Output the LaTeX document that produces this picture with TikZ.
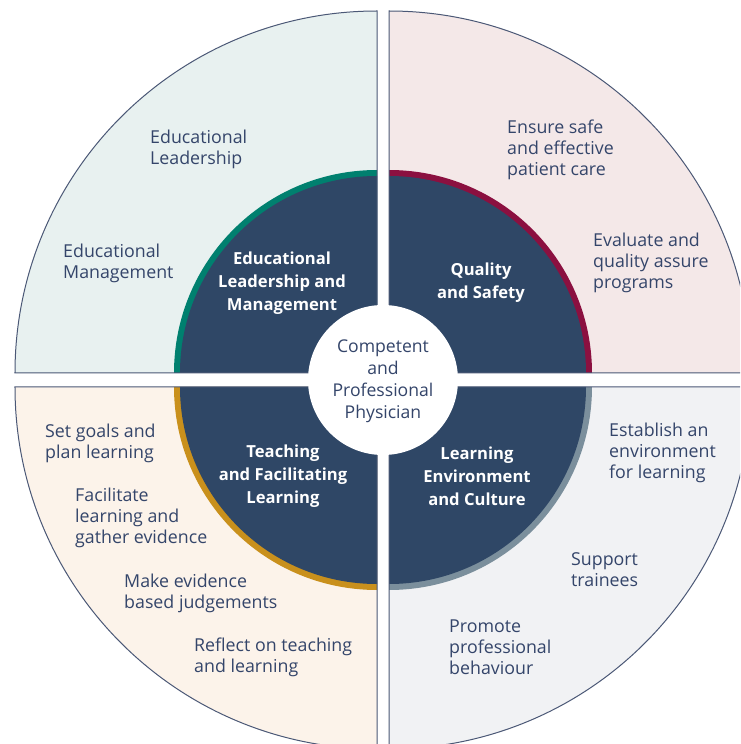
\documentclass[tikz,border=0pt]{standalone}
\usepackage{fontspec}
\setmainfont{Open Sans}
\usepackage{xcolor}
\usetikzlibrary{positioning}

\definecolor{navy}{HTML}{2F4766}
\definecolor{rimline}{HTML}{4B5876}
\definecolor{txtblue}{HTML}{34456A}
\definecolor{mintbg}{HTML}{E8F1F0}
\definecolor{pinkbg}{HTML}{F4E8E8}
\definecolor{creambg}{HTML}{FCF3EA}
\definecolor{greybg}{HTML}{F1F2F4}
\definecolor{ringteal}{HTML}{00806F}
\definecolor{ringwine}{HTML}{8B1040}
\definecolor{ringgold}{HTML}{C9901C}
\definecolor{ringslate}{HTML}{7B8F9C}

\tikzset{
  outtext/.style={anchor=west, align=left, text=txtblue, inner sep=0pt,
    font=\fontsize{17.8}{21}\selectfont},
  intext/.style={align=center, text=white, inner sep=0pt,
    font=\bfseries\fontsize{16.6}{23}\selectfont},
  midtext/.style={align=center, text=txtblue, inner sep=0pt,
    font=\fontsize{17.6}{22}\selectfont},
  rim/.style={draw=rimline, line width=1pt},
}

\begin{document}
\begin{tikzpicture}[x=1pt,y=1pt]
\path[use as bounding box] (-383,-364) rectangle (357,380);
\clip (-383,-364) rectangle (357,380);
\fill[white] (-383,-364) rectangle (357,380);

% top left
\begin{scope}[shift={(-6,7)}] {
\fill[mintbg] (0,0)--(-362,0) arc[start angle=180, end angle=90, radius=362]--cycle;
\fill[ringteal] (0,0)--(-203,0) arc[start angle=180, end angle=90, radius=203]--cycle;
\fill[navy] (0,0)--(-197,0) arc[start angle=180, end angle=90, radius=197]--cycle;
\draw[rim] (0,0)--(-362,0) arc[start angle=180, end angle=90, radius=362]--cycle;
}\end{scope}

% top right
\begin{scope}[shift={(6,7)}] {
\fill[pinkbg] (0,0)--(0,362) arc[start angle=90, end angle=0, radius=362]--cycle;
\fill[ringwine] (0,0)--(0,203) arc[start angle=90, end angle=0, radius=203]--cycle;
\fill[navy] (0,0)--(0,197) arc[start angle=90, end angle=0, radius=197]--cycle;
\draw[rim] (0,0)--(0,362) arc[start angle=90, end angle=0, radius=362]--cycle;
}\end{scope}

% bottom left
\begin{scope}[shift={(-6,-7)}] {
\fill[creambg] (0,0)--(0,-362) arc[start angle=270, end angle=180, radius=362]--cycle;
\fill[ringgold] (0,0)--(0,-203) arc[start angle=270, end angle=180, radius=203]--cycle;
\fill[navy] (0,0)--(0,-197) arc[start angle=270, end angle=180, radius=197]--cycle;
\draw[rim] (0,0)--(0,-362) arc[start angle=270, end angle=180, radius=362]--cycle;
}\end{scope}

% bottom right
\begin{scope}[shift={(6,-7)}] {
\fill[greybg] (0,0)--(362,0) arc[start angle=0, end angle=-90, radius=362]--cycle;
\fill[ringslate] (0,0)--(203,0) arc[start angle=0, end angle=-90, radius=203]--cycle;
\fill[navy] (0,0)--(197,0) arc[start angle=0, end angle=-90, radius=197]--cycle;
\draw[rim] (0,0)--(362,0) arc[start angle=0, end angle=-90, radius=362]--cycle;
}\end{scope}

% centre
\fill[white] (0,0) circle [radius=75];
\node[midtext] (core) at (0,-1) {Competent\\and\\Professional\\Physician};

\node[intext] (lead) at (-101,97) {Educational\\Leadership and\\Management};
\node[intext] (safety) at (98,97) {Quality\\and Safety};
\node[intext] (teach) at (-100,-96) {Teaching\\and Facilitating\\Learning};
\node[intext] (culture) at (94,-96) {Learning\\Environment\\and Culture};

\node[outtext] (edlead) at (-233,231) {Educational\\Leadership};
\node[outtext] (edman) at (-320,117) {Educational\\Management};

\node[outtext] (care) at (124,230) {Ensure safe\\and effective\\patient care};
\node[outtext] (assure) at (210,117) {Evaluate and\\quality assure\\programs};

\node[outtext] (goals) at (-338,-63) {Set goals and\\plan learning};
\node[outtext] (gather) at (-308,-138) {Facilitate\\learning and\\gather evidence};
\node[outtext] (judge) at (-259,-213) {Make evidence\\based judgements};
\node[outtext] (reflect) at (-189,-277) {Reflect on teaching\\and learning};

\node[outtext] (environ) at (226,-73) {Establish an\\environment\\for learning};
\node[outtext] (support) at (188,-190) {Support\\trainees};
\node[outtext] (behave) at (66,-267) {Promote\\professional\\behaviour};

\end{tikzpicture}
\end{document}
